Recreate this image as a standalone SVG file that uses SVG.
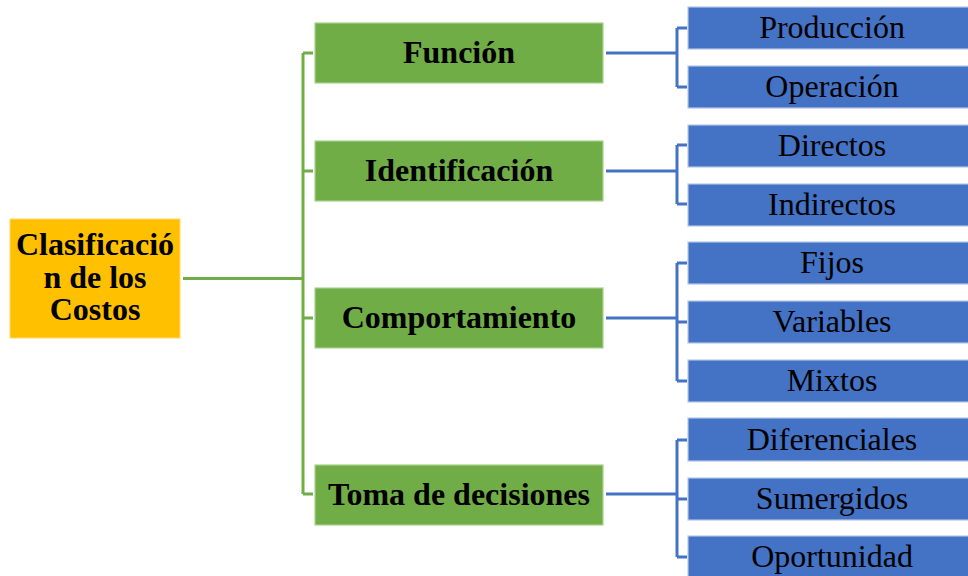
<svg xmlns="http://www.w3.org/2000/svg" width="968" height="576" viewBox="0 0 968 576">
<style>
.root{fill:#FFC000;stroke:#FFD966;stroke-width:1}
.cat{fill:#70AD47;stroke:#A9D18E;stroke-width:1.2}
.leaf{fill:#4472C4;stroke:#B4C7E7;stroke-width:1.2}
.tb{font-family:"Liberation Serif","Times New Roman",serif;font-weight:bold;font-size:32px;fill:#000;text-anchor:middle}
.tr{font-family:"Liberation Serif","Times New Roman",serif;font-size:32px;fill:#000;text-anchor:middle}
.g{fill:none;stroke:#70AD47;stroke-width:3}
.b{fill:none;stroke:#4472C4;stroke-width:3}
</style>
<rect width="968" height="576" fill="#fff"/>
<g id="connectors">
<path class="g" d="M183 278.5H303M303 53V494M303 53H313M303 171H313M303 318H313M303 494H313"/>
<path class="b" d="M606 53H677M677 28V87M677 28H687M677 87H687"/>
<path class="b" d="M606 171H677M677 145V204M677 145H687M677 204H687"/>
<path class="b" d="M606 318H677M677 263V381M677 263H687M677 322H687M677 381H687"/>
<path class="b" d="M606 494H677M677 440V557M677 440H687M677 499H687M677 557H687"/>
</g>
<g id="root"><rect class="root" x="10" y="219" width="170" height="119"/>
<text class="tb" x="95" y="255">Clasificació</text><text class="tb" x="95" y="288">n de los</text><text class="tb" x="95" y="320">Costos</text></g>
<g id="funcion"><rect class="cat" x="315" y="23" width="288" height="60"/><text class="tb" x="459" y="63">Función</text></g>
<g id="identificacion"><rect class="cat" x="315" y="141" width="288" height="60"/><text class="tb" x="459" y="181">Identificación</text></g>
<g id="comportamiento"><rect class="cat" x="315" y="288" width="288" height="60"/><text class="tb" x="459" y="328">Comportamiento</text></g>
<g id="toma"><rect class="cat" x="315" y="465" width="288" height="60"/><text class="tb" x="459" y="505">Toma de decisiones</text></g>
<g id="produccion"><rect class="leaf" x="688" y="7" width="288" height="42"/><text class="tr" x="832" y="38">Producción</text></g>
<g id="operacion"><rect class="leaf" x="688" y="66" width="288" height="42"/><text class="tr" x="832" y="97">Operación</text></g>
<g id="directos"><rect class="leaf" x="688" y="125" width="288" height="42"/><text class="tr" x="832" y="156">Directos</text></g>
<g id="indirectos"><rect class="leaf" x="688" y="184" width="288" height="42"/><text class="tr" x="832" y="215">Indirectos</text></g>
<g id="fijos"><rect class="leaf" x="688" y="242" width="288" height="42"/><text class="tr" x="832" y="273">Fijos</text></g>
<g id="variables"><rect class="leaf" x="688" y="301" width="288" height="42"/><text class="tr" x="832" y="332">Variables</text></g>
<g id="mixtos"><rect class="leaf" x="688" y="360" width="288" height="42"/><text class="tr" x="832" y="391">Mixtos</text></g>
<g id="diferenciales"><rect class="leaf" x="688" y="418" width="288" height="43"/><text class="tr" x="832" y="450">Diferenciales</text></g>
<g id="sumergidos"><rect class="leaf" x="688" y="478" width="288" height="42"/><text class="tr" x="832" y="509">Sumergidos</text></g>
<g id="oportunidad"><rect class="leaf" x="688" y="536" width="288" height="44"/><text class="tr" x="832" y="567">Oportunidad</text></g>
</svg>
